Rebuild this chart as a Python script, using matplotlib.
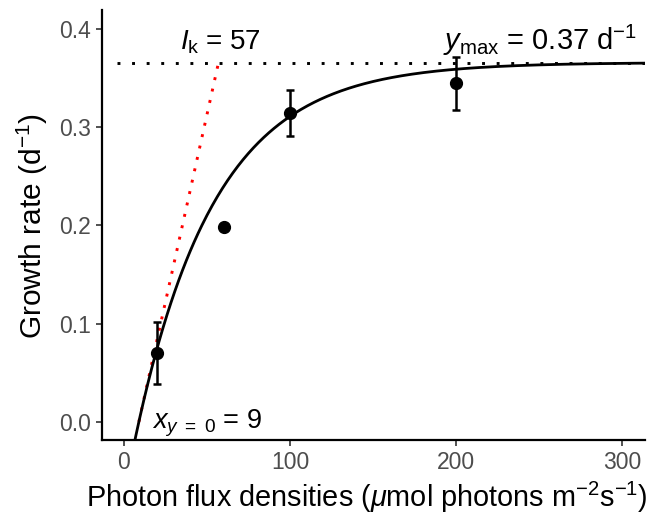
import numpy as np
import matplotlib
matplotlib.use("Agg")
import matplotlib.pyplot as plt

plt.rcParams["font.family"] = ["Liberation Sans", "DejaVu Sans"]
plt.rcParams["mathtext.fontset"] = "custom"
plt.rcParams["mathtext.rm"] = "Liberation Sans"
plt.rcParams["mathtext.it"] = "Liberation Sans:italic"

# measured growth rates
light = [20, 60, 100, 200]
growth = [0.070, 0.198, 0.315, 0.345]
growth_err = [0.032, 0.0, 0.0235, 0.027]

# fitted parameters
y_max = 0.366
x_zero = 9
i_k = 57

x_fit = np.linspace(5, 315, 400)
y_fit = y_max * (1 - np.exp(-(x_fit - x_zero) / (i_k - x_zero)))

fig = plt.figure(figsize=(6.54, 5.16), dpi=100)
ax = fig.add_axes([0.1555, 0.147, 0.8305, 0.834])

ax.plot([-4.4, 314], [y_max, y_max], color="black", lw=2.1, ls=(0, (1, 4.0)))
ax.plot([x_zero, i_k], [0, y_max], color="red", lw=2.1, ls=(0, (1, 3.0)))
ax.plot(x_fit, y_fit, color="black", lw=2.0)
ax.errorbar(light, growth, yerr=growth_err, fmt="o", color="black",
            ms=8.5, elinewidth=1.8, capsize=3, capthick=1.8)

ax.text(i_k + 1, 0.379, r"$\mathit{I}_\mathrm{k}$ = 57", ha="center", va="baseline", fontsize=20)
ax.text(251, 0.379, r"$\mathit{y}_\mathrm{max}$ = 0.37 d$^{-1}$", ha="center", va="baseline", fontsize=21)
ax.text(50, -0.0065, r"$\mathit{x}_{\mathit{y\ =\ 0}}$ = 9", ha="center", va="baseline", fontsize=19.5)

ax.set_xlim(-13.4, 313.9)
ax.set_ylim(-0.0187, 0.4197)
ax.set_xticks([0, 100, 200, 300])
ax.set_yticks([0.0, 0.1, 0.2, 0.3, 0.4])
ax.set_yticklabels(["0.0", "0.1", "0.2", "0.3", "0.4"])

for s in ["top", "right"]:
    ax.spines[s].set_visible(False)
for s in ["left", "bottom"]:
    ax.spines[s].set_linewidth(1.6)
ax.tick_params(colors="#333333", labelcolor="#4D4D4D", labelsize=16.5, length=4, width=1.2)

ax.set_xlabel(r"Photon flux densities ($\mu$mol photons m$^{-2}$s$^{-1}$)", fontsize=20.8, va="center")
ax.set_ylabel(r"Growth rate (d$^{-1}$)", fontsize=21.5, va="center")
ax.xaxis.set_label_coords(0.489, -0.1326)
ax.yaxis.set_label_coords(-0.128, 0.498)

fig.savefig("out.png", dpi=100)
